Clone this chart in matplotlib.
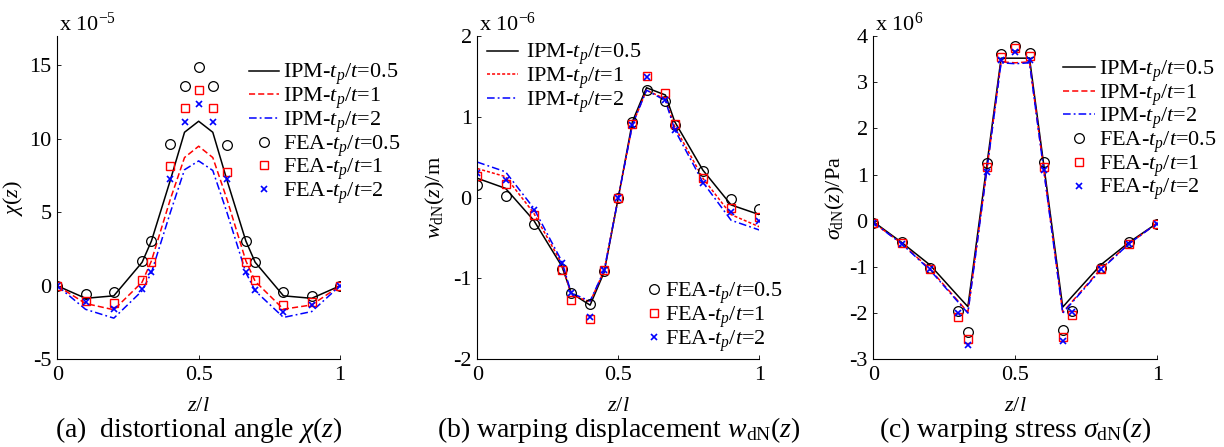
import matplotlib
matplotlib.use("Agg")
import matplotlib.pyplot as plt

plt.rcParams['font.family'] = ['Liberation Serif', 'DejaVu Serif']
plt.rcParams['mathtext.fontset'] = 'custom'
plt.rcParams['mathtext.rm'] = 'Liberation Serif'
plt.rcParams['mathtext.it'] = 'Liberation Serif:italic'
plt.rcParams['mathtext.bf'] = 'Liberation Serif:bold'

# ---------------- data ----------------
z = [0, 0.1, 0.2, 0.3, 0.333, 0.4, 0.45, 0.5, 0.55, 0.6, 0.667, 0.7, 0.8, 0.9, 1.0]

# (a) distortional angle, units of 1e-5
a_ipm_05 = [0, -0.85, -0.68, 1.6, 3.05, 7.2, 10.45, 11.2, 10.45, 7.2, 3.05, 1.6, -0.68, -0.85, 0]
a_ipm_1 = [0, -1.2, -1.63, 0.25, 1.7, 5.9, 8.73, 9.5, 8.73, 5.9, 1.7, 0.3, -1.59, -1.3, 0]
a_ipm_2 = [0, -1.6, -2.2, -0.34, 0.9, 5.0, 7.9, 8.5, 7.85, 5.0, 0.9, -0.34, -2.15, -1.75, 0]
a_fea_05 = [0, -0.57, -0.39, 1.66, 3.06, 9.64, 13.58, 14.9, 13.58, 9.6, 3.02, 1.61, -0.45, -0.68, 0]
a_fea_1 = [0, -1.02, -1.18, 0.39, 1.63, 8.16, 12.09, 13.31, 12.09, 7.76, 1.59, 0.39, -1.32, -1.13, 0]
a_fea_2 = [0, -1.13, -1.59, -0.23, 0.91, 7.26, 11.16, 12.4, 11.16, 7.26, 0.91, -0.29, -1.75, -1.29, 0]

# (b) warping displacement, units of 1e-6 m
b_ipm_05 = [0.24, 0.115, -0.28, -0.85, -1.18, -1.33, -0.92, 0, 0.94, 1.36, 1.27, 0.94, 0.34, -0.09, -0.21]
b_ipm_1 = [0.36, 0.26, -0.19, -0.82, -1.2, -1.29, -0.9, 0, 0.9, 1.33, 1.22, 0.88, 0.24, -0.21, -0.36]
b_ipm_2 = [0.44, 0.32, -0.13, -0.79, -1.18, -1.28, -0.9, 0, 0.9, 1.33, 1.2, 0.84, 0.19, -0.28, -0.4]
b_fea_05 = [0.157, 0.025, -0.32, -0.88, -1.18, -1.32, -0.91, 0, 0.94, 1.33, 1.2, 0.9, 0.33, -0.02, -0.14]
b_fea_1 = [0.27, 0.165, -0.21, -0.89, -1.27, -1.5, -0.9, 0, 0.91, 1.5, 1.29, 0.91, 0.24, -0.13, -0.24]
b_fea_2 = [0.31, 0.22, -0.15, -0.81, -1.18, -1.48, -0.89, 0, 0.9, 1.49, 1.21, 0.84, 0.18, -0.18, -0.29]

# (c) warping stress, units of 1e6 Pa
c_ipm_05 = [-0.02, -0.47, -0.96, -1.64, -1.86, 1.22, 3.52, 3.52, 3.52, 1.22, -1.87, -1.64, -0.96, -0.47, -0.05]
c_ipm_1 = [-0.04, -0.49, -1.05, -1.75, -1.98, 1.12, 3.44, 3.42, 3.44, 1.12, -1.98, -1.75, -1.05, -0.5, -0.05]
c_ipm_2 = [-0.04, -0.5, -1.07, -1.77, -2.0, 1.1, 3.42, 3.4, 3.42, 1.1, -2.0, -1.77, -1.07, -0.5, -0.05]
c_fea_05 = [-0.04, -0.47, -1.03, -1.95, -2.4, 1.26, 3.61, 3.78, 3.64, 1.28, -2.36, -1.95, -1.03, -0.47, -0.07]
c_fea_1 = [-0.05, -0.49, -1.05, -2.08, -2.57, 1.16, 3.55, 3.74, 3.57, 1.17, -2.52, -2.04, -1.05, -0.5, -0.06]
c_fea_2 = [-0.05, -0.5, -1.05, -2.0, -2.69, 1.06, 3.48, 3.66, 3.48, 1.1, -2.6, -1.97, -1.05, -0.5, -0.06]

lab_ipm = [r'IPM-$t_p$/$t$=0.5', r'IPM-$t_p$/$t$=1', r'IPM-$t_p$/$t$=2']
lab_fea = [r'FEA-$t_p$/$t$=0.5', r'FEA-$t_p$/$t$=1', r'FEA-$t_p$/$t$=2']

FS = 16
CFS = 20
W, H = 1224, 447
fig = plt.figure(figsize=(W / 100, H / 100), dpi=100)

def px_axes(l, r, t, b):
    return fig.add_axes([l / W, 1 - b / H, (r - l) / W, (b - t) / H])

axA = px_axes(57.3, 340, 36, 359.3)
axB = px_axes(477.3, 759.3, 36, 359.3)
axC = px_axes(873.3, 1157.3, 36, 359.3)

def style(ax, ylim, yticks, ylx):
    ax.set_xlim(0, 1)
    ax.set_ylim(*ylim)
    ax.set_xticks([0, 0.5, 1])
    ax.set_xticklabels(['0', '0.5', '1'])
    ax.set_yticks(yticks)
    ax.set_yticklabels([str(v) for v in yticks])
    for s in ['top', 'right']:
        ax.spines[s].set_visible(False)
    for s in ['left', 'bottom']:
        ax.spines[s].set_linewidth(0.8)
    ax.tick_params(direction='in', length=3, width=0.6, labelsize=FS, pad=4)
    ax.tick_params(axis='x', pad=5)
    ax.set_xlabel(r'$z/l$', fontsize=FS)
    ax.xaxis.set_label_coords(0.5, -0.118)
    ax.yaxis.set_label_coords(ylx, 0.5)

def plot_set(ax, ipm, fea, red_ls):
    l1, = ax.plot(z, ipm[0], color='k', lw=1.1, ls='-')
    l2, = ax.plot(z, ipm[1], color='#ff0000', lw=1.1, ls=red_ls)
    l3, = ax.plot(z, ipm[2], color='#0000ff', lw=1.1, ls=(0, (5, 2, 1.2, 2)))
    m1, = ax.plot(z, fea[0], ls='none', marker='o', ms=7, mfc='none', mec='k', mew=0.9)
    m2, = ax.plot(z, fea[1], ls='none', marker='s', ms=6.2, mfc='none', mec='#ff0000', mew=1.0)
    m3, = ax.plot(z, fea[2], ls='none', marker='x', ms=4.5, mec='#0000ff', mew=1.2)
    return [l1, l2, l3], [m1, m2, m3]

LEGKW = dict(loc='upper left', frameon=False, fontsize=FS, borderpad=0, borderaxespad=0,
             labelspacing=-0.08)

# (a)
la, ma = plot_set(axA, [a_ipm_05, a_ipm_1, a_ipm_2], [a_fea_05, a_fea_1, a_fea_2], (0, (4, 2)))
style(axA, (-5, 17), [-5, 0, 5, 10, 15], -0.114)
axA.set_ylabel(r'$\chi(z)$', fontsize=FS)
axA.text(0.005, 1.0, r'x 10$^{-5}$', transform=axA.transAxes, fontsize=FS, ha='left', va='bottom')
axA.legend(la + ma, lab_ipm + lab_fea, bbox_to_anchor=(0.678, 0.92),
           handlelength=1.35, handletextpad=0.18, **LEGKW)
axA.text(0.5, -0.22, r'(a)  distortional angle $\chi(z)$', transform=axA.transAxes,
         fontsize=CFS, ha='center', va='center')

# (b)
lb, mb = plot_set(axB, [b_ipm_05, b_ipm_1, b_ipm_2], [b_fea_05, b_fea_1, b_fea_2], (0, (2, 1.3)))
style(axB, (-2, 2), [-2, -1, 0, 1, 2], -0.1085)
axB.set_ylabel(r'$w_{\mathrm{dN}}(z)$/m', fontsize=FS)
axB.text(0.005, 1.0, r'x 10$^{-6}$', transform=axB.transAxes, fontsize=FS, ha='left', va='bottom')
legB1 = axB.legend(lb, lab_ipm, bbox_to_anchor=(0.035, 0.982),
                   handlelength=1.4, handletextpad=0.36, **LEGKW)
axB.add_artist(legB1)
axB.legend(mb, lab_fea, bbox_to_anchor=(0.591, 0.243),
           handlelength=0.9, handletextpad=0.05, **LEGKW)
axB.text(0.5, -0.22, r'(b) warping displacement $w_{\mathrm{dN}}(z)$', transform=axB.transAxes,
         fontsize=CFS, ha='center', va='center')

# (c)
lc, mc = plot_set(axC, [c_ipm_05, c_ipm_1, c_ipm_2], [c_fea_05, c_fea_1, c_fea_2], (0, (4, 2)))
style(axC, (-3, 4), [-3, -2, -1, 0, 1, 2, 3, 4], -0.094)
axC.set_ylabel(r'$\sigma_{\mathrm{dN}}(z)$/Pa', fontsize=FS)
axC.text(0.005, 1.0, r'x 10$^{6}$', transform=axC.transAxes, fontsize=FS, ha='left', va='bottom')
axC.legend(lc + mc, lab_ipm + lab_fea, bbox_to_anchor=(0.669, 0.931),
           handlelength=1.44, handletextpad=0.15, **LEGKW)
axC.text(0.5, -0.22, r'(c) warping stress $\sigma_{\mathrm{dN}}(z)$', transform=axC.transAxes,
         fontsize=CFS, ha='center', va='center')

fig.savefig('out.png', dpi=100)
